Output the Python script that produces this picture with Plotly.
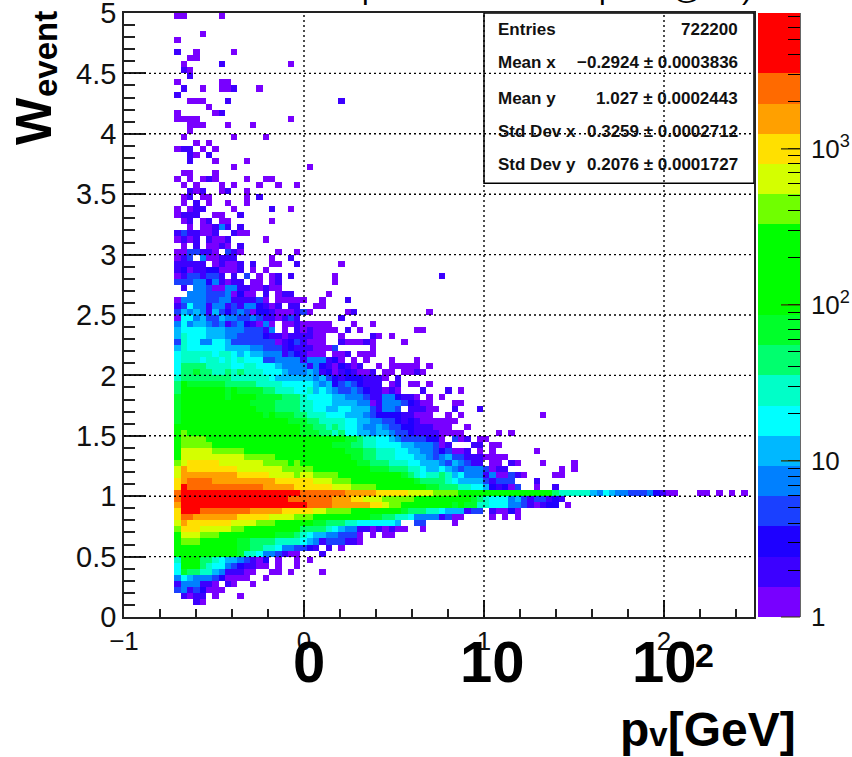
import math
import plotly.graph_objects as go

# 2D histogram: 100 x 100 bins over x in [-1, 2.5], y in [0, 5].
X_START, X_BIN = -1.0, 0.035
Y_START, Y_BIN = 0.0, 0.05
FIRST_BIN = 8
NBINS = 100

# Colour band -> representative bin content.
band_codes = "0123456789abcdefghij"
band_counts = [1, 2, 3, 5, 7, 12, 18, 28, 44, 69, 107, 167, 261, 407, 637, 995, 1553, 2424, 3783, 5900]
band_colors = ["#7800ff", "#3c00ff", "#1e00ff", "#1a40ff", "#0080ff", "#00b8ff", "#00ffff", "#00ffc8",
               "#00ff6e", "#00ff2a", "#00ff00", "#00ff00", "#00ff00", "#70ff00", "#d4ff00", "#ffe000",
               "#ffa000", "#ff6a00", "#ff0000", "#ff0000"]

# Rows from top (y = 5) to bottom; "offset:bands" segments, "." = empty bin.
rows_top = [
    "0:00.....0", "", "", "0:....0", "0:0", "", "0:1..0.....0", "0:..00",
    "0:.0.....1..........0", "0:.10", "0:..1", "0:0......00", "0:.1..0..001...0", "0:1",
    "0:..000...1.................1", "0:.....0", "0:0.....01", "0:0000..............0",
    "0:..000...0...0", "0:..0", "0:.0.......0....0", "0:...0.0", "0:011.0.0", "0:..10.1",
    "0:..1...0....0", "0:.........0...........0", "0:.00...0", "0:0.0.010....0..00",
    "0:.0.0...0.0...0..0..0", "0:..101..01..0", "0:.01.00.....0.1", "0:.0.1.0..0..0",
    "0:0.011....0.....1..0", "0:0111..00..1", "0:.01.01.00......0", "0:..0.00141.1",
    "0:1311001..100", "0:0101.1001.....0", "0:.0.1.0010.1", "0:0033110.310.....0..0",
    "0:013.400111.....0..1", "0:11111.01001.1..00..1......0", "0:12011220001.0.0",
    "0:01331331.1.3.0.01.1......0................1", "0:33344241011.00.01........0",
    "0:.1.44300441100100", "0:..44433340200.1.011.....0", "0:044443344111130.00000..0...1",
    "0:13644144131442101.11..00", "0:3545415323430221000130.....01...........0",
]
rows_mid = [
    "0:0664533544334311013 19:1 26:1",
    "0:4645543413421040 17:00100000 28:0 31:0",
    "0:5666655544433314 17:0 19:1010000 27:1 29:0 38:00",
    "0:5766655544333321 16:10111100 26:0 31:10 34:0",
    "0:3766446653333333 16:01231000 26:100010 36:0",
    "0:5766666655554433 16:31211 21:1000 25:3 31:0",
    "0:6777776776565544 16:4132 20:1000 25:001 29:000",
    "0:6777677676766633 16:4444 20:1444 24:120 28:0 30:0 34:0 38:0",
    "0:6888877776677666 16:5444 20:4 21:142102101 32:0 34:00000 40:0",
    "0:68898877878777666544 20:454120121001 33:00 36:0010",
    "0:78888888877777765555 20:5545321222111 33:0 35:1",
    "0:8b999999888887777666 20:6654523432111 34:01 37:00 40:0",
    "0:8bbbbbbb9b9999887776 20:6756543343211010 39:1 43:1 45:0",
    "0:9bbbbbbb9bbbb9999888 20:7666655444311442110 40:0 42:0",
    "0:9bbbbbbbbbbb99998888 20:7766655554401444321 39:00 44:00",
    "0:9bbbbbbbbbbbb9998888 20:7766556655531443 37:11100 44:1 48:1",
    "0:9bbbbbbbbbbbbb9b9998 20:877766655543222 35:211000 43:0 45:0 58:0",
    "0:9bbbbbbbbbbbbbbbbb99 20:98877776655443321210000 43:00",
    "0:bbbbbbbbbbbbbbbbbbbb 20:998878766544543322111000 46:0",
    "0:bdbbbbbbbbbbbbbbbbbb 20:9998878665 30:5455433211 40:11000 45:0 51:0 53:0",
]
rows_core = [
    "0:bdddd 5:bbbbbbbbbbbbbbbbbbbb 25:bb998 30:7766 34:5433 38:3322 42:0 44:301 48:00",
    "0:b 1:ddddd 6:bbbbbbbbbbbbbbbbb 23:bb999 28:88 30:77666 35:6554 39:443 42:01 47:11 50:00",
    "0:beeeee 6:ddddd 11:bbbbbbbbbbbbbbbb 27:999 30:8877 34:7 35:66 37:5544 41:3 42:23 44:001 48:0 50:0 57:0",
    "0:b 1:eeeeeeeeee 11:ddddd 16:bbbbbbbbbbb 27:b99 30:8877 34:76 36:6655 40:43 42:45 44:33 46:111 49:0000",
    "0:de 2:fffff 7:eeeeeee 14:dddd 18:bd 20:bbbbb 25:bbbb 29:9988 33:8777 37:6655 41:5 42:4354 46:311 50:00 53:10 58:0 63:0",
    "0:eg 2:ffffffff 10:eeee 14:eeedd 19:ddd 22:bbbbbbbbb 31:99 33:988 36:87 38:76 40:55 42:654 45:3444 49:3011 61:0 63:0",
    "0:e 1:ggggggggg 10:fffff 15:eeee 19:dee 22:dddd 26:bbbbbbbbbb 36:98 38:76 40:77 42:875644 48:4 49:14003 54:10 60:00",
    "0:fg 2:hhhh 6:gggggggggg 16:fff 19:fff 22:eee 25:ddd 28:bbbbbbbbbb 38:98 40:88 42:8765555 49:31 51:333 57:1",
    "0:f 1:i 2:hhhhhhhhhhhh 14:ggggg 19:fff 22:fff 25:eee 28:dddd 32:bbbbbbbb 40:99 42:8887766 49:5 50:21203 57:0 60:1",
    "0:h 1:iiiiiiiiiiiiiiiiiii 20:hhhhhhh 27:ggggg 32:fffff 37:eeee 41:d 42:ddd 45:bbbbbbbbbbbbbbb 60:8 61:77777 66:54654433 74:3 75:4 76:2100 83:00 86:0 88:0 90:0",
    "0:h 1:iiiiiiiiiiiiiiiii 18:hhh 21:hhhh 25:ggg 28:ff 30:eee 33:ddd 36:dd 38:bbbb 42:bbbbb 47:987 50:666 53:4 54:5 55:3 56:1 57:33 59:1 60:2 61:1",
    "0:g 1:iiiiiiiiiiiiiiiiiiii 21:hhhh 25:gggggg 31:ff 33:e 34:dd 36:bbbbbb 42:bb9b9 47:9 48:77 50:666 53:44 55:3 56:101 59:22 62:0",
    "0:f 1:iii 4:hhhhhhhh 12:ggggg 17:fffff 22:ee 24:dddd 28:bbbbbbbb 36:9 37:888 40:77 42:6555 46:133 50:1002 54:0",
    "0:f 1:hh 3:ggggggg 10:fffff 15:eeee 19:ddd 22:bbbbbbbbb 31:99 33:88 35:776 38:444 41:4 42:13 44:00 50:0 52:0 54:0",
    "0:e 1:g 2:fffffff 9:eeee 13:ddd 16:bbb 19:bbb 22:998887 28:76666665 38:33 44:0",
    "0:d 1:fff 4:eeeee 9:dd 11:bbbbbbbbb 20:8888 24:76 26:5 27:44 29:1101010 36:0 39:0",
    "0:b 1:eee 4:ddd 7:bbbbbbbbb 16:999 19:87 21:65 23:54 25:43 27:33 29:0 31:0 33:00",
    "0:b 1:ddd 4:bbbbbb 10:99 12:8888 16:7777 20:654 23:1333 27:11 29:0",
    "0:bbbbbbbbbb 10:99 12:88 14:77 16:6 17:443 20:321 24:1 26:0",
    "0:bbbbbbbbbb 10:9 11:776 14:44 16:3 17:100 23:1",
    "0:7 1:bbb 4:887 7:655 10:43102 16:0 19:0 21:0",
    "0:6 1:bbb 4:87 6:66 8:43 10:2 11:1100 16:0 19:0",
    "0:6 1:988 4:77 6:5 7:4 8:111 11:00 15:00 18:0 23:0",
    "0:46 2:544 5:43 7:2 8:0000 14:0",
    "0:14 2:44 4:11 6:0 8:10 12:0",
    "0:34 2:13 4:2 5:000",
    "1:10 3:11 6:0 10:0",
    "3:10",
]

grid_x = [0, 1, 2]
grid_y = [0.5, 1, 1.5, 2, 2.5, 3, 3.5, 4, 4.5]
big_x_labels = ["0", "10", "10", "2"]
big_x_px = [309, 492, 664, 704]
big_x_py = [661, 661, 661, 655]
big_x_size = [58, 58, 58, 34]
stat_names = ["Entries", "Mean x", "Mean y", "Std Dev x", "Std Dev y"]
stat_values = ["722200", "\u22120.2924 \u00b1 0.0003836", "1.027 \u00b1 0.0002443",
               "0.3259 \u00b1 0.0002712", "0.2076 \u00b1 0.0001727"]
decade_values = [1, 10, 100, 1000]
decade_labels = ["1", "10", "10<sup>2</sup>", "10<sup>3</sup>"]
minor_counts = [2, 3, 4, 5, 6, 7, 8, 9, 20, 30, 40, 50, 60, 70, 80, 90,
                200, 300, 400, 500, 600, 700, 800, 900, 2000, 3000, 4000, 5000, 6000, 7000]
Z_MAX = 3.87
title_fragments = ["p", "p", "@", ")"]
title_fragment_px = [370, 607, 687, 747]

# Page geometry
W, H = 852, 757
L, R, T, B = 124, 754, 13, 617
CB_L, CB_R = 758, 800
FONT = "Liberation Sans"


def px(xp):
    return (xp - L) / (R - L)


def py(yp):
    return (B - yp) / (B - T)


all_rows = rows_top + rows_mid + rows_core
z = [[None] * NBINS for _ in range(NBINS)]
for t, row in enumerate(all_rows):
    j = NBINS - 1 - t
    for seg in row.split():
        off, codes = seg.split(":")
        for k, ch in enumerate(codes):
            if ch != ".":
                z[j][FIRST_BIN + int(off) + k] = math.log10(band_counts[band_codes.index(ch)])

colorscale = []
for k, c in enumerate(band_colors):
    colorscale += [[k / 20, c], [(k + 1) / 20, c]]

cb_vals = [math.log10(v) for v in decade_values] + [math.log10(v) for v in minor_counts]
cb_text = ["\u2009" + s for s in decade_labels] + [""] * len(minor_counts)

fig = go.Figure(go.Heatmap(
    z=z, x0=X_START + X_BIN / 2, dx=X_BIN, y0=Y_START + Y_BIN / 2, dy=Y_BIN,
    zmin=0, zmax=Z_MAX, colorscale=colorscale, hoverongaps=False,
    colorbar=dict(
        x=(CB_L - L) / (R - L), xanchor="left", xpad=0, y=0, yanchor="bottom", ypad=0,
        len=1, lenmode="fraction", thickness=CB_R - CB_L, thicknessmode="pixels",
        tickmode="array", tickvals=cb_vals, ticktext=cb_text, ticks="inside", ticklen=12,
        tickwidth=1, tickcolor="black", outlinewidth=0,
        tickfont=dict(family=FONT, size=26, color="#111111"),
    ),
))

shapes = []
dot = dict(color="black", width=1.4, dash="2px,3px")
for gx in grid_x:
    shapes.append(dict(type="line", xref="x", yref="y", x0=gx, x1=gx, y0=0, y1=5, line=dot, layer="above"))
for gy in grid_y:
    shapes.append(dict(type="line", xref="x", yref="y", x0=-1, x1=2.5, y0=gy, y1=gy, line=dot, layer="above"))
shapes.append(dict(type="rect", xref="x", yref="y", x0=1.0, x1=2.5, y0=3.59, y1=5,
                   line=dict(color="black", width=1.5), layer="above"))
# right edge of the colour bar
shapes.append(dict(type="line", xref="paper", yref="paper", x0=px(CB_R), x1=px(CB_R), y0=0, y1=1,
                   line=dict(color="black", width=1.2), layer="above"))

ann = []
stat_y = [30, 63, 98, 132, 165]
for name, val, yp in zip(stat_names, stat_values, stat_y):
    ann.append(dict(text=name, xref="paper", yref="paper", x=px(496), y=py(yp), xanchor="left", yanchor="middle",
                    showarrow=False, font=dict(family=FONT, size=17, color="#111111", weight="bold")))
    ann.append(dict(text=val, xref="paper", yref="paper", x=px(740), y=py(yp), xanchor="right", yanchor="middle",
                    showarrow=False, font=dict(family=FONT, size=17, color="#111111", weight="bold")))

for lab, xp, yp, size in zip(big_x_labels, big_x_px, big_x_py, big_x_size):
    ann.append(dict(text=lab, xref="paper", yref="paper", x=px(xp), y=py(yp), xanchor="center", yanchor="middle",
                    showarrow=False, font=dict(family=FONT, size=size, color="black", weight="bold")))

ann.append(dict(text='p<span style="font-size:33px">v</span>[GeV]', xref="paper", yref="paper", x=px(798), y=py(729),
                xanchor="right", yanchor="middle", showarrow=False,
                font=dict(family=FONT, size=48, color="black", weight="bold")))
ann.append(dict(text="W", xref="paper", yref="paper", x=px(34), y=py(121), xanchor="center",
                yanchor="middle", textangle=-90, showarrow=False,
                font=dict(family=FONT, size=50, color="black", weight="bold")))
ann.append(dict(text="event", xref="paper", yref="paper", x=px(46), y=py(54), xanchor="center",
                yanchor="middle", textangle=-90, showarrow=False,
                font=dict(family=FONT, size=33, color="black", weight="bold")))

# title line, cut off by the top of the page: only its descenders show
for frag, xp in zip(title_fragments, title_fragment_px):
    ann.append(dict(text=frag, xref="paper", yref="paper", x=px(xp), y=py(-12), xanchor="center", yanchor="middle",
                    showarrow=False, font=dict(family=FONT, size=30, color="black")))

# long decade ticks on the colour bar
for v in decade_values:
    ann.append(dict(text=" ", xref="paper", yref="paper", x=px(CB_R), y=math.log10(v) / Z_MAX,
                    ax=-22, ay=0, axref="pixel", ayref="pixel", showarrow=True, arrowhead=0, arrowwidth=1.2,
                    arrowcolor="#333300", standoff=0, startstandoff=0))

axis_common = dict(showgrid=False, zeroline=False, ticks="inside", tickcolor="#222222", tickwidth=1.5,
                   showline=True, linecolor="#222222", linewidth=1.5, mirror=True, layer="above traces",
                   ticklabeloverflow="allow")

fig.update_layout(
    width=W, height=H, autosize=False,
    margin=dict(l=L, r=W - R, t=T, b=H - B, pad=0, autoexpand=False),
    plot_bgcolor="white", paper_bgcolor="white",
    font=dict(family=FONT, color="#111111"),
    xaxis=dict(range=[-1, 2.5], tickmode="linear", tick0=-1, dtick=1, ticklen=17,
               tickfont=dict(size=26), minor=dict(ticks="inside", tick0=-1, dtick=0.2, ticklen=8,
                                                   tickcolor="#222222", tickwidth=1.5), **axis_common),
    yaxis=dict(range=[0, 5], tickmode="linear", tick0=0, dtick=0.5, ticklen=22,
               tickfont=dict(size=29), minor=dict(ticks="inside", tick0=0, dtick=0.1, ticklen=11,
                                                   tickcolor="#222222", tickwidth=1.5), **axis_common),
    shapes=shapes, annotations=ann,
)

fig.write_html("out.html", post_script="document.body.style.margin='0';",
               config={"displayModeBar": False})
